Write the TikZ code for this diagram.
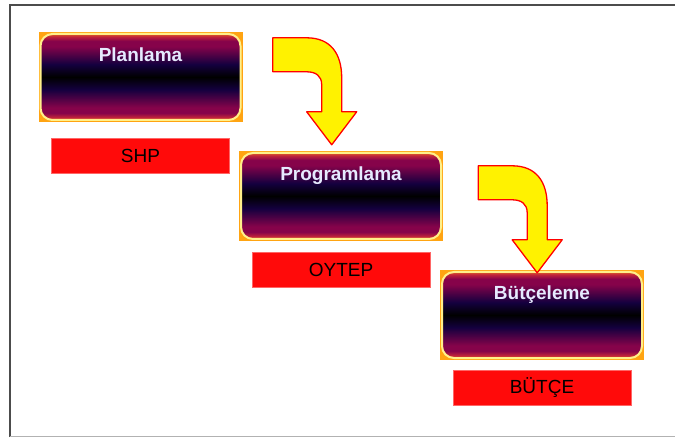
\documentclass[tikz,border=0pt]{standalone}
\usepackage{fontspec}
\setmainfont{Liberation Sans}
\usetikzlibrary{positioning,calc}
\definecolor{turuncu}{HTML}{F39019}
\definecolor{kenar}{HTML}{FFA412}
\definecolor{bordo}{HTML}{86034A}
\definecolor{kizil}{HTML}{C2253A}
\definecolor{lacivert}{HTML}{14003F}
\definecolor{soluksari}{HTML}{FFF08A}
\definecolor{etiketkirmizi}{HTML}{FF0A0A}
\definecolor{baslikbeyaz}{HTML}{E6EAFF}
\pgfdeclareverticalshading{ates}{100bp}{color(0bp)=(turuncu); color(25bp)=(turuncu);
  color(27.5bp)=(kizil); color(30bp)=(bordo); color(33bp)=(bordo); color(43bp)=(lacivert); color(50bp)=(black);
  color(57bp)=(lacivert); color(67bp)=(bordo); color(70bp)=(bordo); color(72.5bp)=(kizil); color(75bp)=(turuncu); color(100bp)=(turuncu)}
\tikzset{
  kutu/.style={rectangle,fill=kenar,minimum width=204pt,minimum height=90pt,inner sep=0pt,
    path picture={\shadedraw[shading=ates,draw=soluksari,line width=2pt,rounded corners=12pt]
      ([shift={(2pt,-2pt)}]path picture bounding box.north west) rectangle
      ([shift={(-2pt,2pt)}]path picture bounding box.south east);}},
  baslik/.style={anchor=base,text=baslikbeyaz,font=\fontsize{19pt}{22pt}\selectfont\bfseries},
  etiket/.style={rectangle,fill=etiketkirmizi,draw=red!60,line width=0.6pt,minimum width=178pt,
    minimum height=35pt,inner sep=0pt,font=\fontsize{19pt}{22pt}\selectfont},
  okstil/.style={fill=yellow,draw=red,line width=1.3pt,line join=round},
  kivrikok/.pic={\filldraw[okstil] (0,0) -- (34,0) .. controls (58,0) and (69,-16) .. (69,-40)
    -- (69,-74) -- (84,-74) -- (59,-107) -- (34,-74) -- (49,-74) -- (49,-47)
    .. controls (49,-38) and (43,-34) .. (34,-34) -- (0,-34) -- cycle;},
}
\begin{document}
\begin{tikzpicture}[x=1pt,y=1pt]
  \useasboundingbox (0,0) rectangle (675,437);
  % cerceve
  \draw[black!70,line width=2pt] (9.5,0) -- (9.5,432) -- (675,432);
  \draw[black!30,line width=1pt] (9.5,1) -- (675,1);
  % kutular
  \node[kutu] (plan) at (140.5,360) {};
  \node[kutu] (prog) at (341,241) {};
  \node[kutu] (butce) at (542,122) {};
  \node[baslik] (planyazi) at ([yshift=-30pt]plan.north) {Planlama};
  \node[baslik] (progyazi) at ([yshift=-30pt]prog.north) {Programlama};
  \node[baslik] (butceyazi) at ([yshift=-30pt]butce.north) {Bütçeleme};
  \node[etiket] (shp) [below=16pt of plan] {SHP};
  \node[etiket] (oytep) [below=11pt of prog] {OYTEP};
  \node[etiket] (butcetiket) [below=10pt of butce] {BÜTÇE};
  % oklar
  \pic at ($(plan.north east)+(30,-6)$) {kivrikok};
  \pic at ($(prog.north east)+(35,-15)$) {kivrikok};
\end{tikzpicture}
\end{document}
